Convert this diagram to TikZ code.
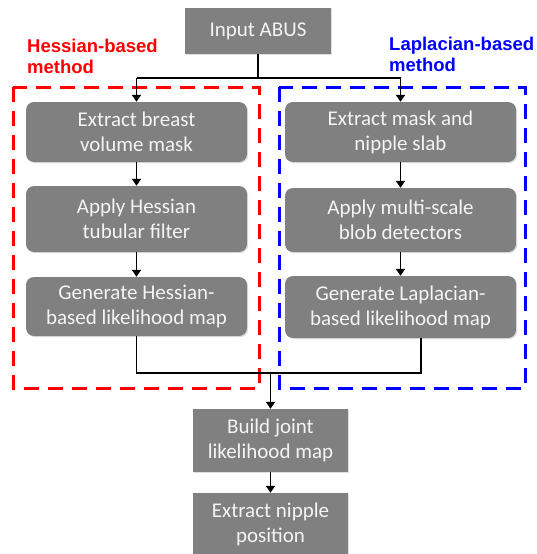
\documentclass[tikz,border=0pt]{standalone}
\usepackage{fontspec}
\setmainfont{Carlito}
\newfontfamily\labfont{Liberation Sans}
\usetikzlibrary{arrows.meta,shadows}
\definecolor{boxgray}{RGB}{128,128,128}
\definecolor{boxtext}{RGB}{244,244,244}
\tikzset{
  stepbox/.style={fill=boxgray, text=boxtext, align=center, inner sep=0pt,
    font=\fontsize{21}{25}\selectfont,
    drop shadow={opacity=0.25, shadow xshift=1.2pt, shadow yshift=-1.2pt}},
  roundbox/.style={stepbox, rounded corners=8pt},
  conn/.style={line width=1.8pt, black},
  arr/.style={conn, -{Triangle[width=9pt,length=7pt]}},
  grouplabel/.style={font=\labfont\bfseries\fontsize{18.5}{21}\selectfont, align=left, inner sep=0pt, anchor=north west},
  groupbox/.style={line width=3pt, dash pattern=on 15pt off 9pt},
}
\begin{document}
\begin{tikzpicture}[x=1pt,y=-1pt]
\useasboundingbox (0,0) rectangle (537,554);
\clip (0,0) rectangle (537,554);
% group frames
\draw[groupbox, red] (13,87) rectangle (259,388);
\draw[groupbox, blue] (279,87) rectangle (525,388);
% labels
\node[grouplabel, text=red] (hlab) at (27,39) {Hessian-based\\method};
\node[grouplabel, text=blue] (llab) at (389,37) {Laplacian-based\\method};
% boxes
\node[stepbox, minimum width=146pt, minimum height=46pt] (in) at (258,31) {Input ABUS};
\node[roundbox, minimum width=221pt, minimum height=60pt] (l1) at (136.5,132) {Extract breast\\volume mask};
\node[roundbox, minimum width=221pt, minimum height=66pt] (l2) at (136.5,219) {Apply Hessian\\tubular filter};
\node[roundbox, minimum width=221pt, minimum height=59pt] (l3) at (136.5,306.5) {Generate Hessian-\\based likelihood map};
\node[roundbox, minimum width=231pt, minimum height=60pt] (r1) at (400.5,132) {Extract mask and\\nipple slab};
\node[roundbox, minimum width=231pt, minimum height=64pt] (r2) at (400.5,220) {Apply multi-scale\\blob detectors};
\node[roundbox, minimum width=231pt, minimum height=62pt] (r3) at (400.5,307) {Generate Laplacian-\\based likelihood map};
\node[stepbox, minimum width=155pt, minimum height=63pt] (b) at (270.5,440.5) {Build joint\\likelihood map};
\node[stepbox, minimum width=155pt, minimum height=62pt] (e) at (270.5,524) {Extract nipple\\position};
% top split
\coordinate (split) at (258,78);
\coordinate (splitl) at (136.5,78);
\coordinate (splitr) at (400.5,78);
\draw[conn] (in.south) -- (split);
\draw[conn] (splitl) -- (splitr);
\draw[arr] (splitl) -- (l1.north);
\draw[arr] (splitr) -- (r1.north);
% columns
\draw[arr] (l1.south) -- (l2.north);
\draw[arr] (l2.south) -- (l3.north);
\draw[arr] (r1.south) -- (r2.north);
\draw[arr] (r2.south) -- (r3.north);
% merge
\coordinate (ml) at (136.5,373);
\coordinate (mr) at (421,373);
\coordinate (mm) at (270.5,373);
\draw[conn] (l3.south) -- (ml) -- (mr) -- (r3.south -| mr);
\draw[arr] (mm) -- (b.north);
\draw[arr] (b.south) -- (e.north);
\end{tikzpicture}
\end{document}
